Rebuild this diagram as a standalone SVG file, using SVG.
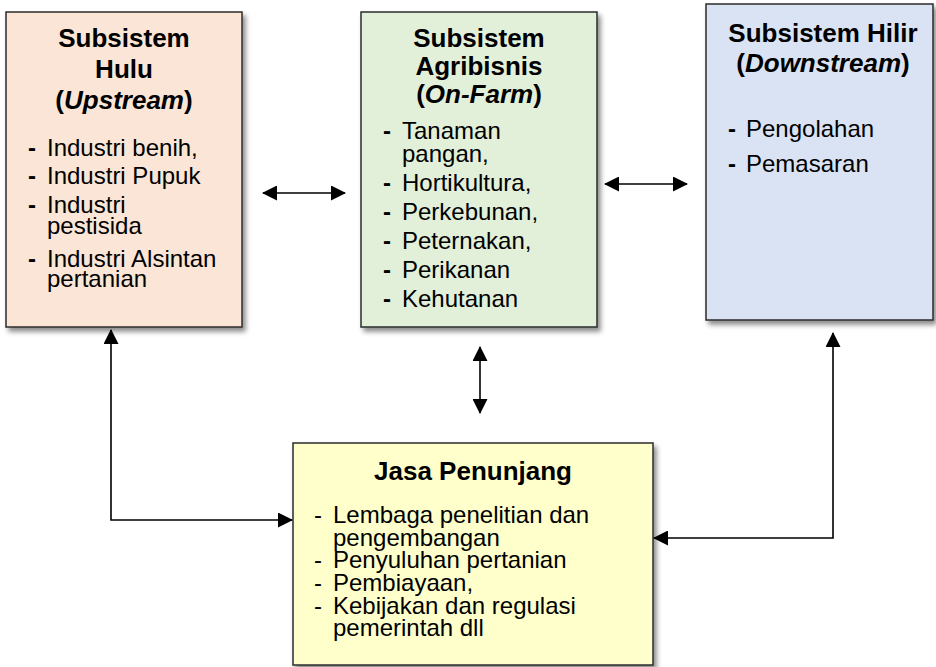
<svg xmlns="http://www.w3.org/2000/svg" width="936" height="667" viewBox="0 0 936 667">
  <style>
    .box { stroke: #2b2b2b; stroke-width: 1.5; filter: url(#shadow); }
    .title { font-family: "Liberation Sans", Arial, sans-serif; font-size: 26px; font-weight: bold; fill: #000; text-anchor: middle; }
    .item { font-family: "Liberation Sans", Arial, sans-serif; font-size: 24px; fill: #000; }
    .dash { font-family: "Liberation Sans", Arial, sans-serif; font-size: 24px; font-weight: bold; fill: #000; }
    .link { fill: none; stroke: #000; stroke-width: 1.6; marker-start: url(#arrow); marker-end: url(#arrow); }
  </style>
  <defs>
    <filter id="shadow" x="-10%" y="-10%" width="125%" height="125%">
      <feDropShadow dx="3" dy="4" stdDeviation="2.5" flood-color="#000" flood-opacity="0.45"/>
    </filter>
    <marker id="arrow" viewBox="0 0 15 15" refX="14" refY="7.5" markerWidth="15" markerHeight="15" markerUnits="userSpaceOnUse" orient="auto-start-reverse">
      <path d="M0,0 L15,7.5 L0,15 z" fill="#000"/>
    </marker>
  </defs>

  <rect width="936" height="667" fill="#fff"/>

  <!-- upstream subsystem -->
  <g id="hulu">
    <rect class="box" x="6" y="12" width="236" height="315" fill="#FBE5D6"/>
    <text class="title" x="124" y="47">Subsistem</text>
    <text class="title" x="124" y="78">Hulu</text>
    <text class="title" x="124" y="109">(<tspan font-style="italic">Upstream</tspan>)</text>
    <text class="dash" x="28" y="156">-</text>
    <text class="item" x="47" y="156">Industri benih,</text>
    <text class="dash" x="28" y="184">-</text>
    <text class="item" x="47" y="184">Industri Pupuk</text>
    <text class="dash" x="28" y="213">-</text>
    <text class="item" x="47" y="213">Industri</text>
    <text class="item" x="47" y="234">pestisida</text>
    <text class="dash" x="28" y="267">-</text>
    <text class="item" x="47" y="267">Industri Alsintan</text>
    <text class="item" x="47" y="287">pertanian</text>
  </g>

  <!-- on-farm subsystem -->
  <g id="agribisnis">
    <rect class="box" x="361" y="12" width="236" height="315" fill="#E2EFD9"/>
    <text class="title" x="479" y="47">Subsistem</text>
    <text class="title" x="479" y="75">Agribisnis</text>
    <text class="title" x="479" y="103">(<tspan font-style="italic">On-Farm</tspan>)</text>
    <text class="dash" x="383" y="139">-</text>
    <text class="item" x="402" y="139">Tanaman</text>
    <text class="item" x="402" y="162">pangan,</text>
    <text class="dash" x="383" y="191">-</text>
    <text class="item" x="402" y="191">Hortikultura,</text>
    <text class="dash" x="383" y="220">-</text>
    <text class="item" x="402" y="220">Perkebunan,</text>
    <text class="dash" x="383" y="249">-</text>
    <text class="item" x="402" y="249">Peternakan,</text>
    <text class="dash" x="383" y="278">-</text>
    <text class="item" x="402" y="278">Perikanan</text>
    <text class="dash" x="383" y="307">-</text>
    <text class="item" x="402" y="307">Kehutanan</text>
  </g>

  <!-- downstream subsystem -->
  <g id="hilir">
    <rect class="box" x="706" y="4" width="227" height="316" fill="#DAE3F3"/>
    <text class="title" x="823" y="42">Subsistem Hilir</text>
    <text class="title" x="823" y="72">(<tspan font-style="italic">Downstream</tspan>)</text>
    <text class="dash" x="728" y="137">-</text>
    <text class="item" x="746" y="137">Pengolahan</text>
    <text class="dash" x="728" y="172">-</text>
    <text class="item" x="746" y="172">Pemasaran</text>
  </g>

  <!-- supporting services -->
  <g id="jasa">
    <rect class="box" x="293" y="443" width="360" height="222" fill="#FFFFCC"/>
    <text class="title" x="473" y="480">Jasa Penunjang</text>
    <text class="item" x="314" y="523">-</text>
    <text class="item" x="333" y="523">Lembaga penelitian dan</text>
    <text class="item" x="333" y="545.5">pengembangan</text>
    <text class="item" x="314" y="568">-</text>
    <text class="item" x="333" y="568">Penyuluhan pertanian</text>
    <text class="item" x="314" y="591">-</text>
    <text class="item" x="333" y="591">Pembiayaan,</text>
    <text class="item" x="314" y="614">-</text>
    <text class="item" x="333" y="614">Kebijakan dan regulasi</text>
    <text class="item" x="333" y="636">pemerintah dll</text>
  </g>

  <!-- connectors -->
  <g id="connectors">
    <line class="link" x1="263" y1="193" x2="345" y2="193"/>
    <line class="link" x1="605" y1="184" x2="687" y2="184"/>
    <line class="link" x1="480" y1="347" x2="480" y2="413"/>
    <path class="link" d="M111,330 V520 H292"/>
    <path class="link" d="M833,333 V538 H654"/>
  </g>
</svg>
